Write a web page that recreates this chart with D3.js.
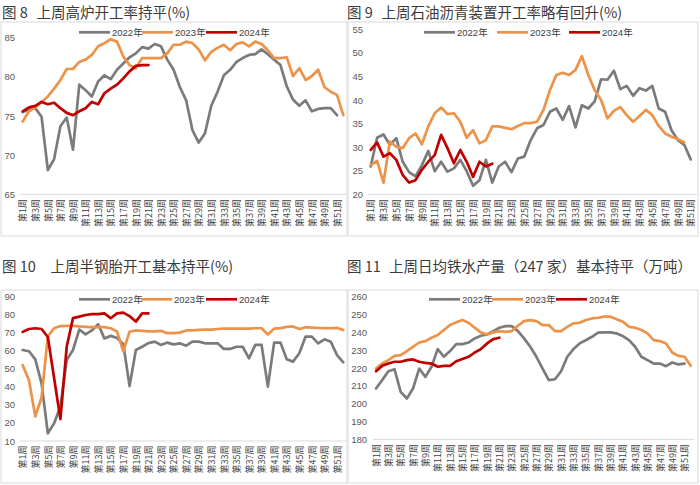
<!DOCTYPE html>
<html><head><meta charset="utf-8">
<script src="https://cdn.jsdelivr.net/npm/d3@7"></script>
<style>body{margin:0;background:#fff}svg{display:block}</style>
</head><body><svg id="c" width="700" height="485"></svg>
<script>
const weeks = d3.range(1, 53).map(w => "第" + w + "周");
const tickWeeks = weeks.filter((_, i) => i % 2 === 0);
const seriesNames = ["2022年", "2023年", "2024年"];

// 图8 高炉开工率 (%)
const p1_2022 = [75.5,75.8,76.0,74.9,68.1,69.5,73.7,74.8,70.7,79.0,78.3,77.5,79.4,80.2,79.7,80.9,81.7,82.5,83.0,83.8,83.6,84.2,83.9,82.2,80.9,78.7,77.0,73.2,71.6,72.8,76.3,78.1,80.2,80.9,81.9,82.4,82.8,82.9,83.5,82.9,82.2,81.5,78.8,77.1,76.3,77.0,75.6,75.9,76.0,76.0,75.1];
const p1_2023 = [74.3,75.6,76.1,76.8,77.5,78.5,79.6,81.0,81.0,81.9,82.2,82.8,83.9,84.3,84.8,84.5,82.6,81.5,81.1,82.4,82.4,82.4,82.4,83.0,84.1,84.1,84.5,84.3,83.5,82.1,83.2,83.7,84.1,83.4,84.2,84.4,83.9,84.5,84.2,83.4,82.4,82.4,82.5,80.1,81.1,79.6,80.1,80.9,78.7,78.1,77.7,75.1];
const p1_2024 = [75.6,76.1,76.3,76.8,76.5,76.7,76.0,75.4,75.1,75.6,76.0,76.8,76.5,77.9,78.5,79.0,79.8,80.7,81.4,81.5,81.5];

// 图9 石油沥青装置开工率 (%)
const p2_2022 = [25.9,32.0,32.7,30.5,31.9,26.9,24.7,23.8,26.2,29.2,24.9,26.9,24.8,25.5,27.3,24.9,21.8,23.0,27.3,22.5,25.9,26.9,24.7,27.6,28.0,31.5,34.0,34.7,37.5,38.2,35.8,38.7,34.2,38.9,38.2,39.7,44.4,44.3,46.2,42.3,43.0,40.9,42.5,42.0,43.0,38.2,37.5,33.6,31.5,30.5,27.4];
const p2_2023 = [26.2,27.1,22.5,31.2,30.1,29.8,31.9,32.9,30.6,34.4,37.2,38.4,37.0,37.2,35.4,32.0,33.6,30.8,31.5,34.4,34.4,34.1,33.8,34.5,35.1,35.1,35.4,37.9,42.1,45.3,45.8,45.3,46.4,49.3,45.3,42.1,40.0,36.1,37.7,38.5,36.8,35.4,36.6,37.9,36.8,34.5,32.9,32.2,31.7,31.0];
const p2_2024 = [29.4,31.0,28.0,28.7,27.3,24.1,22.5,23.0,25.2,26.9,28.3,32.6,29.8,26.6,29.4,26.9,23.7,26.9,25.9,26.5];

// 图10 半钢胎开工率 (%)
const p3_2022 = [60.2,59.5,55.0,41.8,14.2,19.8,29.0,54.7,60.2,71.5,68.8,71.0,74.4,66.6,68.0,66.8,63.5,40.3,60.2,62.0,64.0,64.8,63.0,64.3,63.3,63.9,62.6,64.8,64.8,63.9,63.9,63.9,60.8,60.8,62.0,62.0,55.6,63.0,63.0,40.0,64.3,64.3,55.1,53.8,58.4,67.6,67.6,63.9,66.1,64.8,57.4,53.4];
const p3_2023 = [51.8,43.5,23.5,34.0,67.8,72.2,73.4,73.5,73.5,73.2,73.0,72.8,72.8,72.8,72.2,70.5,59.4,70.3,71.0,70.8,70.5,70.5,70.8,69.5,69.5,69.8,71.0,71.0,71.3,71.5,71.5,71.8,72.0,72.0,72.0,72.0,72.0,72.2,72.2,68.8,72.0,72.3,73.0,73.2,71.8,72.8,72.6,72.4,72.3,72.2,72.4,71.2];
const p3_2024 = [70.2,71.8,72.2,71.8,67.4,44.6,22.0,62.0,77.8,78.6,79.5,80.0,80.0,80.4,77.7,80.4,80.8,78.9,75.9,80.4,80.4];

// 图11 日均铁水产量 (万吨)
const p4_2022 = [208.5,213.2,218.2,219.3,206.6,202.9,208.5,219.7,215.0,220.7,230.6,226.3,229.5,233.4,233.4,234.3,236.6,238.1,238.8,240.7,242.6,243.5,243.5,240.7,236.6,231.9,226.3,219.7,213.2,213.7,218.2,226.3,230.6,233.8,235.6,237.5,239.8,240.0,240.0,239.4,237.9,235.6,231.9,226.3,224.4,222.5,222.5,221.0,223.1,222.0,222.5];
const p4_2023 = [219.7,222.5,224.4,226.8,227.2,229.5,231.9,234.3,235.1,237.0,238.5,241.3,244.1,245.6,246.9,245.4,242.6,240.0,238.8,240.0,240.7,240.3,240.7,243.7,246.3,246.9,246.3,244.1,244.1,240.7,240.7,243.1,245.0,245.4,246.9,247.8,248.2,248.8,248.8,247.4,246.0,243.1,242.6,241.3,239.4,235.6,235.1,233.8,228.7,226.8,226.3,221.2];
const p4_2024 = [218.2,221.2,222.5,223.5,223.5,224.4,224.8,223.5,222.9,222.5,220.7,221.2,221.2,223.8,225.0,226.3,228.7,230.6,233.8,236.2,237.0];

const yTicks1 = d3.range(65, 86, 5);
const yTicks2 = d3.range(20, 56, 5);
const yTicks3 = d3.range(10, 91, 10);
const yTicks4 = d3.range(180, 261, 10);

const colors = ["#7b7b7b", "#ec9249", "#c00000"];

const panels = [
  {num:"图 8", title:"上周高炉开工率持平(%)", numX:2, titleX:36.5, titleY:18,
   box:[1,22,346,214], ticks:yTicks1, yRange:[194.3,37.7], xRange:[22.7,343.3],
   labelX:15, axisX:[20,346], legendX:[79,142,206], legendY:32.3, labelTop:199,
   data:[p1_2022,p1_2023,p1_2024]},
  {num:"图 9", title:"上周石油沥青装置开工率略有回升(%)", numX:347, titleX:381.5, titleY:18,
   box:[348,22,350,214], ticks:yTicks2, yRange:[194.3,29.3], xRange:[370.7,697.1],
   labelX:363, axisX:[368,697], legendX:[424,497,569], legendY:32.3, labelTop:199,
   data:[p2_2022,p2_2023,p2_2024]},
  {num:"图 10", title:"上周半钢胎开工基本持平(%)", numX:2, titleX:50.5, titleY:272,
   box:[1,290,346,193], ticks:yTicks3, yRange:[441,296], xRange:[22.7,343.3],
   labelX:15, axisX:[20,346], legendX:[79,141,206], legendY:299.3, labelTop:445.5,
   data:[p3_2022,p3_2023,p3_2024]},
  {num:"图 11", title:"上周日均铁水产量（247 家）基本持平（万吨）", numX:347, titleX:389, titleY:272,
   box:[348,290,350,193], ticks:yTicks4, yRange:[439.3,296.7], xRange:[376,690.7],
   labelX:367, axisX:[373,694], legendX:[429,492,556], legendY:299.3, labelTop:444,
   data:[p4_2022,p4_2023,p4_2024]}
];

const svg = d3.select("#c");
svg.append("rect").attr("width",700).attr("height",485).attr("fill","#fff");

const cjk = "'Noto Sans CJK SC','Noto Sans',sans-serif";
const latin = "'Liberation Sans','Noto Sans CJK SC',sans-serif";

panels.forEach(p => {
  const g = svg.append("g");
  g.append("text").attr("x", p.numX).attr("y", p.titleY)
    .attr("font-family", cjk).attr("font-size", 14.5).attr("fill", "#3a3a3a").text(p.num);
  g.append("text").attr("x", p.titleX).attr("y", p.titleY)
    .attr("font-family", cjk).attr("font-size", 14.5).attr("fill", "#3a3a3a").text(p.title);
  g.append("rect").attr("x", p.box[0]).attr("y", p.box[1]).attr("width", p.box[2]).attr("height", p.box[3])
    .attr("fill", "none").attr("stroke", "#d9d9d9").attr("stroke-width", 1);

  const x = d3.scalePoint().domain(weeks).range(p.xRange);
  const y = d3.scaleLinear().domain([p.ticks[0], p.ticks[p.ticks.length-1]]).range(p.yRange);

  const ya = g.append("g").attr("transform", `translate(${p.labelX},0)`)
    .call(d3.axisLeft(y).tickValues(p.ticks).tickSize(0).tickPadding(0));
  ya.select(".domain").remove();
  ya.selectAll("text").attr("font-family", latin).attr("font-size", 9.5).attr("fill", "#595959");

  const base = y(p.ticks[0]);
  g.append("line").attr("x1", p.axisX[0]).attr("x2", p.axisX[1]).attr("y1", base).attr("y2", base)
    .attr("stroke", "#d9d9d9").attr("stroke-width", 1);
  const xa = g.append("g").attr("transform", `translate(0,${p.labelTop})`)
    .call(d3.axisBottom(x).tickValues(tickWeeks).tickSize(0).tickPadding(0));
  xa.select(".domain").remove();
  xa.selectAll("text").attr("transform", "rotate(-90)").attr("x", 0).attr("y", 0)
    .attr("dy", "0.35em").attr("text-anchor", "end")
    .attr("font-family", cjk).attr("font-size", 9).attr("fill", "#404040");

  const line = d3.line().x((d, i) => x(weeks[i])).y(d => y(d)).curve(d3.curveLinear);
  p.data.forEach((s, k) => {
    g.append("path").attr("d", line(s)).attr("fill", "none").attr("stroke", colors[k])
      .attr("stroke-width", 2.7).attr("stroke-linejoin", "round").attr("stroke-linecap", "round");
  });

  seriesNames.forEach((nm, k) => {
    const lx = p.legendX[k];
    g.append("line").attr("x1", lx).attr("x2", lx + 31).attr("y1", p.legendY).attr("y2", p.legendY)
      .attr("stroke", colors[k]).attr("stroke-width", 2.7);
    g.append("text").attr("x", lx + 33).attr("y", p.legendY + 3.3)
      .attr("font-family", latin).attr("font-size", 9.5).attr("fill", "#404040").text(nm);
  });
});
</script></body></html>
